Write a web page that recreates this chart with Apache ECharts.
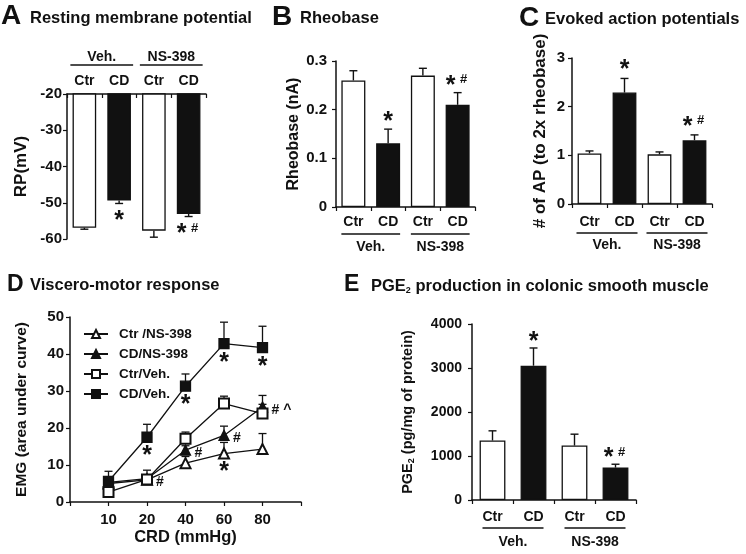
<!DOCTYPE html>
<html><head><meta charset="utf-8">
<script src="https://cdn.jsdelivr.net/npm/echarts@6/dist/echarts.min.js"></script>
<style>html,body{margin:0;padding:0;background:#fff}#c{width:746px;height:554px}</style>
</head><body><div id="c"></div>
<script>
// ---------------- data ----------------
const conditions = ['Ctr', 'CD', 'Ctr', 'CD'];
const treatments = ['Veh.', 'NS-398'];

const rpMean = [-56.9, -49.4, -57.7, -53.1];
const rpErr = [0.4, 0.8, 1.8, 0.7];
const rpSig = ['', '*', '', '*#'];

const rheoMean = [0.26, 0.131, 0.27, 0.21];
const rheoErr = [0.02, 0.029, 0.015, 0.025];
const rheoSig = ['', '*', '', '*#'];

const apMean = [1.04, 2.29, 1.02, 1.31];
const apErr = [0.05, 0.29, 0.05, 0.11];
const apSig = ['', '*', '', '*#'];

const pgeMean = [1351, 3052, 1237, 736];
const pgeErr = [221, 403, 259, 77];
const pgeSig = ['', '*', '', '*#'];

const crdLabels = ['10', '20', '40', '60', '80'];
const ctrNS = [5.0, 6.0, 10.5, 13.1, 14.3];
const ctrNSErr = [0.5, 0.5, 1.8, 3.0, 4.2];
const ctrNSSig = ['', '', '', '*', ''];
const cdNS = [5.3, 6.3, 14.0, 18.0, 25.7];
const cdNSErr = [0.5, 0.5, 1.2, 2.5, 3.1];
const cdNSSig = ['', '', '#', '#', '# ^'];
const ctrVeh = [2.7, 6.1, 17.1, 26.6, 23.9];
const ctrVehErr = [0.3, 2.5, 1.8, 2.0, 2.5];
const ctrVehSig = ['', '#', '', '', ''];
const cdVeh = [5.6, 17.5, 31.3, 42.8, 41.7];
const cdVehErr = [2.7, 3.5, 3.3, 5.8, 5.8];
const cdVehSig = ['', '*', '*', '*', '*'];

// ---------------- layout / style ----------------
const FONT = '"Liberation Sans", Arial, Helvetica, sans-serif';
const K = '#111';
const chart = echarts.init(document.getElementById('c'), null, {renderer: 'canvas'});

const barPanels = [
  {mean: rpMean, err: rpErr, sig: rpSig, grid: {left: 67, top: 94, width: 139, height: 145},
   y: {min: -60, max: -20, interval: 10}, top: true, name: 'RP(mV)', nameGap: 37, nameSize: 17,
   barWidth: '68%', labelMargin: 6, lineOff: 29, groupOff: 37, ext: 14, yLabelMargin: 5, yLabelSize: 15, sigOff: 12},
  {mean: rheoMean, err: rheoErr, sig: rheoSig, grid: {left: 336, top: 61, width: 139, height: 146},
   y: {min: 0, max: 0.3, interval: 0.1}, top: false, name: 'Rheobase (nA)', nameGap: 34, nameSize: 16,
   barWidth: '69%', labelMargin: 8, lineOff: 27, groupOff: 40, ext: 12, yLabelMargin: 9, yLabelSize: 15, sigOff: -13},
  {mean: apMean, err: apErr, sig: apSig, grid: {left: 572, top: 58, width: 140, height: 146},
   y: {min: 0, max: 3, interval: 1}, top: false, name: '# of AP (to 2x rheobase)', nameGap: 23, nameSize: 17,
   barWidth: '68%', labelMargin: 11, lineOff: 29, groupOff: 41, ext: 13, yLabelMargin: 7, yLabelSize: 15, sigOff: -14},
  {mean: pgeMean, err: pgeErr, sig: pgeSig, grid: {left: 472, top: 324, width: 164, height: 176},
   y: {min: 0, max: 4000, interval: 1000}, top: false, name: 'PGE{s|2} (pg/mg of protein)', nameGap: 56, nameSize: 14.5,
   barWidth: '63%', labelMargin: 10, lineOff: 28, groupOff: 42, ext: 10, yLabelMargin: 10, yLabelSize: 14, sigOff: -12}
];

const axisLine = {lineStyle: {color: K, width: 1.5}};
const grids = [], xAxes = [], yAxes = [], series = [];

function sigText(x, y, s) {
  const out = [];
  if (!s) return out;
  if (s === '*') {
    out.push({type: 'text', style: {text: '*', x: x, y: y + 6, align: 'center', verticalAlign: 'middle', font: 'bold 25px ' + FONT, fill: K}});
  } else if (s === '*#') {
    out.push({type: 'text', style: {text: '*', x: x - 7, y: y + 6, align: 'center', verticalAlign: 'middle', font: 'bold 25px ' + FONT, fill: K}});
    out.push({type: 'text', style: {text: '#', x: x + 6, y: y, align: 'center', verticalAlign: 'middle', font: 'bold 13px ' + FONT, fill: K}});
  }
  return out;
}

barPanels.forEach((P, gi) => {
  const idx = grids.length;
  grids.push(P.grid);
  xAxes.push({
    type: 'category', gridIndex: idx, data: conditions, position: P.top ? 'top' : 'bottom',
    axisLine: axisLine, axisTick: {show: true, inside: P.top, length: 4, lineStyle: {color: K, width: 1.2}},
    axisLabel: {color: K, fontFamily: FONT, fontWeight: 'bold', fontSize: 14, margin: P.labelMargin}
  });
  yAxes.push({
    type: 'value', gridIndex: idx, min: P.y.min, max: P.y.max, interval: P.y.interval,
    axisLine: {show: true, lineStyle: {color: K, width: 1.5}},
    axisTick: {show: true, length: 4, lineStyle: {color: K, width: 1.2}},
    splitLine: {show: false},
    axisLabel: {color: K, fontFamily: FONT, fontWeight: 'bold', fontSize: P.yLabelSize, margin: P.yLabelMargin,
      formatter: v => String(Math.round(v * 1000) / 1000)},
    name: P.name, nameLocation: 'middle', nameGap: P.nameGap,
    nameTextStyle: {color: K, fontFamily: FONT, fontWeight: 'bold', fontSize: P.nameSize,
      rich: {s: {fontSize: 9, fontWeight: 'bold', fontFamily: FONT, color: K, padding: [8, 0, 0, 0]}}}
  });
  series.push({
    type: 'bar', xAxisIndex: idx, yAxisIndex: idx, barWidth: P.barWidth, clip: true, z: 2,
    data: P.mean.map((v, i) => ({value: v, itemStyle: {color: i % 2 ? K : '#fff', borderColor: K, borderWidth: 1.3}}))
  });
  series.push({
    type: 'custom', xAxisIndex: idx, yAxisIndex: idx, z: 3, clip: false,
    encode: {x: 0, y: 1},
    data: P.mean.map((v, i) => [i, v, P.err[i]]),
    renderItem: (params, api) => {
      const i = api.value(0), m = api.value(1), e = api.value(2);
      const dir = m < 0 ? -1 : 1;
      const p0 = api.coord([i, m]);
      const p1 = api.coord([i, m + dir * e]);
      const ch = [
        {type: 'line', shape: {x1: p0[0], y1: p0[1], x2: p1[0], y2: p1[1]}, style: {stroke: K, lineWidth: 1.4}},
        {type: 'line', shape: {x1: p1[0] - 4, y1: p1[1], x2: p1[0] + 4, y2: p1[1]}, style: {stroke: K, lineWidth: 1.4}}
      ];
      return {type: 'group', children: ch.concat(sigText(p1[0], p1[1] + P.sigOff, P.sig[params.dataIndex]))};
    }
  });
  series.push({
    type: 'custom', xAxisIndex: idx, yAxisIndex: idx, z: 3, clip: false,
    encode: {x: 0, y: 1},
    data: treatments.map((t, g) => [g, P.y.min]),
    renderItem: (params, api) => {
      const g = api.value(0);
      const cs = params.coordSys;
      const xa = api.coord([2 * g, P.y.min])[0] - P.ext;
      const xb = api.coord([2 * g + 1, P.y.min])[0] + P.ext;
      const ly = P.top ? cs.y - P.lineOff : cs.y + cs.height + P.lineOff;
      const ty = P.top ? cs.y - P.groupOff : cs.y + cs.height + P.groupOff;
      return {type: 'group', children: [
        {type: 'line', shape: {x1: xa, y1: ly, x2: xb, y2: ly}, style: {stroke: K, lineWidth: 1.3}},
        {type: 'text', style: {text: treatments[g], x: (xa + xb) / 2, y: ty, align: 'center', verticalAlign: 'middle', font: 'bold 14px ' + FONT, fill: K}}
      ]};
    }
  });
});

// ---------------- panel D (line chart) ----------------
const dIdx = grids.length;
grids.push({left: 70, top: 317, width: 231, height: 185});
xAxes.push({
  type: 'value', gridIndex: dIdx, min: 0, max: 6, interval: 1,
  axisLine: axisLine, axisTick: {show: true, length: 4, lineStyle: {color: K, width: 1.2}},
  splitLine: {show: false},
  axisLabel: {color: K, fontFamily: FONT, fontWeight: 'bold', fontSize: 15, margin: 10,
    formatter: v => (v >= 1 && v <= crdLabels.length) ? crdLabels[v - 1] : ''},
  name: 'CRD (mmHg)', nameLocation: 'middle', nameGap: 27,
  nameTextStyle: {color: K, fontFamily: FONT, fontWeight: 'bold', fontSize: 16.5}
});
yAxes.push({
  type: 'value', gridIndex: dIdx, min: 0, max: 50, interval: 10,
  axisLine: {show: true, lineStyle: {color: K, width: 1.5}},
  axisTick: {show: true, length: 4, lineStyle: {color: K, width: 1.2}},
  splitLine: {show: false},
  axisLabel: {color: K, fontFamily: FONT, fontWeight: 'bold', fontSize: 15, margin: 6},
  name: 'EMG (area under curve)', nameLocation: 'middle', nameGap: 40,
  nameTextStyle: {color: K, fontFamily: FONT, fontWeight: 'bold', fontSize: 15.5}
});

const lineDefs = [
  {name: 'Ctr /NS-398', data: ctrNS, err: ctrNSErr, sig: ctrNSSig, symbol: 'emptyTriangle', size: 10, sigPos: 'below'},
  {name: 'CD/NS-398', data: cdNS, err: cdNSErr, sig: cdNSSig, symbol: 'triangle', size: 10, sigPos: 'right'},
  {name: 'Ctr/Veh.', data: ctrVeh, err: ctrVehErr, sig: ctrVehSig, symbol: 'emptyRect', size: 10, sigPos: 'right'},
  {name: 'CD/Veh.', data: cdVeh, err: cdVehErr, sig: cdVehSig, symbol: 'rect', size: 10, sigPos: 'below'}
];
lineDefs.forEach((L, si) => {
  series.push({
    type: 'line', name: L.name, xAxisIndex: dIdx, yAxisIndex: dIdx, z: 4 + si,
    symbol: L.symbol, symbolSize: L.size, showAllSymbol: true,
    lineStyle: {color: K, width: 1.3},
    itemStyle: {color: K, borderColor: K, borderWidth: 1.3},
    data: L.data.map((v, k) => [k + 1, v])
  });
  series.push({
    type: 'custom', xAxisIndex: dIdx, yAxisIndex: dIdx, z: 3, clip: false,
    encode: {x: 0, y: 1},
    data: L.data.map((v, k) => [k + 1, v, L.err[k]]),
    renderItem: (params, api) => {
      const x = api.value(0), m = api.value(1), e = api.value(2);
      const p0 = api.coord([x, m]);
      const p1 = api.coord([x, m + e]);
      return {type: 'group', children: [
        {type: 'line', shape: {x1: p0[0], y1: p0[1], x2: p1[0], y2: p1[1]}, style: {stroke: K, lineWidth: 1.3}},
        {type: 'line', shape: {x1: p1[0] - 4, y1: p1[1], x2: p1[0] + 4, y2: p1[1]}, style: {stroke: K, lineWidth: 1.3}}
      ]};
    }
  });
  series.push({
    type: 'custom', xAxisIndex: dIdx, yAxisIndex: dIdx, z: 10, clip: false,
    encode: {x: 0, y: 1},
    data: L.data.map((v, k) => [k + 1, v]),
    renderItem: (params, api) => {
      const s = L.sig[params.dataIndex];
      if (!s) return null;
      const p = api.coord([api.value(0), api.value(1)]);
      if (L.sigPos === 'below') {
        return {type: 'text', style: {text: s, x: p[0], y: p[1] + 19, align: 'center', verticalAlign: 'middle', font: 'bold 25px ' + FONT, fill: K}};
      }
      return {type: 'text', style: {text: s, x: p[0] + 9, y: p[1] + 3, align: 'left', verticalAlign: 'middle', font: 'bold 14px ' + FONT, fill: K}};
    }
  });
});

// ---------------- titles ----------------
function title(letter, lx, ly, lsize, text, tx, ty) {
  return [
    {type: 'text', left: lx, top: ly, style: {text: letter, font: 'bold ' + lsize + 'px ' + FONT, fill: K}},
    {type: 'text', left: tx, top: ty, style: {text: text, font: 'bold 16.5px ' + FONT, fill: K}}
  ];
}
const graphics = [].concat(
  title('A', 1, 2, 28, 'Resting membrane potential', 30, 10),
  title('B', 272, 3, 28, 'Rheobase', 300, 10),
  title('C', 519, 4, 28, 'Evoked action potentials', 545, 11),
  title('D', 7, 273, 23, 'Viscero-motor response', 30, 277),
  title('E', 344, 273, 23, '', 372, 279)
);
graphics.push({type: 'text', left: 371, top: 278, style: {
  text: 'PGE{s|2} production in colonic smooth muscle', font: 'bold 16.5px ' + FONT, fill: K,
  rich: {s: {font: 'bold 9px ' + FONT, fill: K, padding: [9, 0, 0, 0]}}}});

chart.setOption({
  animation: false,
  backgroundColor: '#fff',
  textStyle: {fontFamily: FONT},
  grid: grids, xAxis: xAxes, yAxis: yAxes, series: series,
  legend: {
    data: lineDefs.map(l => l.name), orient: 'vertical', left: 78, top: 322,
    itemWidth: 24, itemHeight: 10, itemGap: 6,
    textStyle: {color: K, fontFamily: FONT, fontWeight: 'bold', fontSize: 13.5, padding: [0, 0, 0, 6]}
  },
  graphic: graphics
});
</script>
</body></html>
